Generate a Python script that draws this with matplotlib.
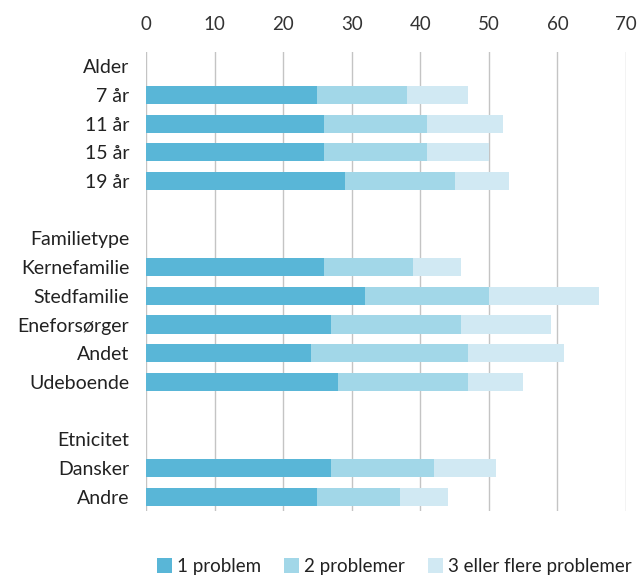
import matplotlib.pyplot as plt
import numpy as np

plt.rcParams['font.family'] = ['Lato', 'DejaVu Sans']

labels = ["Alder", "7 år", "11 år", "15 år", "19 år", "",
          "Familietype", "Kernefamilie", "Stedfamilie", "Eneforsørger", "Andet", "Udeboende", "",
          "Etnicitet", "Dansker", "Andre"]
# segment shares (nan = header / blank row)
one = [np.nan, 25, 26, 26, 29, np.nan, np.nan, 26, 32, 27, 24, 28, np.nan, np.nan, 27, 25]
two = [np.nan, 13, 15, 15, 16, np.nan, np.nan, 13, 18, 19, 23, 19, np.nan, np.nan, 15, 12]
three = [np.nan, 9, 11, 9, 8, np.nan, np.nan, 7, 16, 13, 14, 8, np.nan, np.nan, 9, 7]
series = ["1 problem", "2 problemer", "3 eller flere problemer"]
colors = ["#59b6d7", "#a2d7e8", "#d1e9f3"]

one, two, three = np.array(one), np.array(two), np.array(three)
y = np.arange(len(labels))

fig = plt.figure(figsize=(6.38, 5.79), dpi=100)
ax = fig.add_axes([146 / 638, 1 - 511 / 579, 480 / 638, 459 / 579])

h = 0.63
ax.barh(y, one, height=h, color=colors[0], label=series[0], zorder=3)
ax.barh(y, two, left=one, height=h, color=colors[1], label=series[1], zorder=3)
ax.barh(y, three, left=one + two, height=h, color=colors[2], label=series[2], zorder=3)

ax.set_xlim(0, 70)
ax.set_ylim(len(labels) - 0.5, -0.5)
ax.set_xticks(np.arange(0, 71, 10))
ax.xaxis.tick_top()
ax.tick_params(axis='x', length=0, pad=14, labelsize=13.5, colors="#333333")
ax.set_yticks(y)
ax.set_yticklabels(labels)
ax.tick_params(axis='y', length=0, pad=12, labelsize=14, colors="#222222")
ax.grid(axis='x', color="#c4c4c4", linewidth=1, zorder=0)
for s in ax.spines.values():
    s.set_visible(False)

fig.legend(loc='lower center', bbox_to_anchor=(0.618, -0.022), ncol=3, frameon=False,
           fontsize=13.5, handlelength=0.8, handleheight=0.8, handletextpad=0.3,
           columnspacing=1.2, labelcolor="#222222")

fig.savefig("out.png", dpi=100)
